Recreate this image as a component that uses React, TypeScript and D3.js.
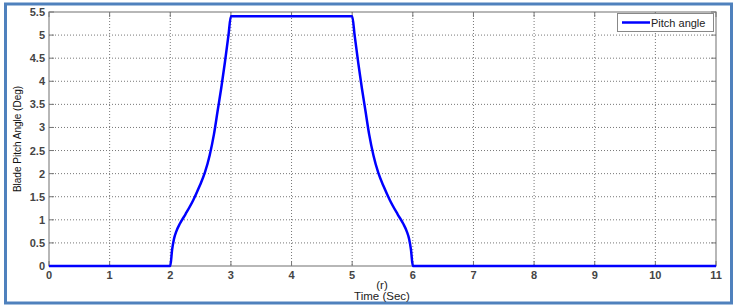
import React, { useEffect, useRef } from 'react';
import * as d3 from 'd3';

// time (s) and blade pitch angle (deg)
const timeSec = [0, 1, 2, 2.03, 2.06, 2.1, 2.16, 2.25, 2.38, 2.48, 2.57, 2.65, 2.72, 2.78, 2.84, 2.9, 2.96, 3.0,
  4, 5.0, 5.04, 5.1, 5.16, 5.22, 5.28, 5.35, 5.43, 5.52, 5.62, 5.75, 5.84, 5.9, 5.94, 5.97, 6.0, 7, 8, 9, 10, 11];
const pitchDeg = [0, 0, 0, 0.35, 0.58, 0.75, 0.92, 1.12, 1.43, 1.72, 2.02, 2.4, 2.85, 3.35, 3.85, 4.4, 5.0, 5.41,
  5.41, 5.41, 5.0, 4.4, 3.85, 3.35, 2.85, 2.4, 2.02, 1.72, 1.43, 1.12, 0.92, 0.75, 0.58, 0.35, 0, 0, 0, 0, 0, 0];
const xTicks = [0, 1, 2, 3, 4, 5, 6, 7, 8, 9, 10, 11];
const yTicks = [0, 0.5, 1, 1.5, 2, 2.5, 3, 3.5, 4, 4.5, 5, 5.5];

const W = 736;
const H = 308;

export default function App() {
  const svgRef = useRef<SVGSVGElement>(null);

  useEffect(() => {
    if (!svgRef.current) return;
    const svg = d3.select(svgRef.current);
    svg.selectAll('*').remove();

    const left = 49, right = 716, top = 12, bottom = 266;
    const x = d3.scaleLinear().domain([0, 11]).range([left, right]);
    const y = d3.scaleLinear().domain([0, 5.5]).range([bottom, top]);
    const font = 'Arial, "Liberation Sans", sans-serif';

    svg.append('rect').attr('width', W).attr('height', H).attr('fill', '#fff');
    // outer frame
    svg.append('rect')
      .attr('x', 5.5).attr('y', 4).attr('width', 726).attr('height', 299)
      .attr('fill', 'none').attr('stroke', '#4f81bd').attr('stroke-width', 3);

    const g = svg.append('g');

    // grid
    g.selectAll('.vg').data(xTicks.slice(1, -1)).enter().append('line')
      .attr('x1', d => x(d)).attr('x2', d => x(d)).attr('y1', top).attr('y2', bottom)
      .attr('stroke', '#777').attr('stroke-width', 1).attr('stroke-dasharray', '1,2');
    g.selectAll('.hg').data(yTicks.slice(1, -1)).enter().append('line')
      .attr('y1', d => y(d)).attr('y2', d => y(d)).attr('x1', left).attr('x2', right)
      .attr('stroke', '#777').attr('stroke-width', 1).attr('stroke-dasharray', '1,2');

    // box
    g.append('rect')
      .attr('x', left).attr('y', top).attr('width', right - left).attr('height', bottom - top)
      .attr('fill', 'none').attr('stroke', '#888').attr('stroke-width', 1.2);

    // ticks inside
    xTicks.forEach(t => {
      g.append('line').attr('x1', x(t)).attr('x2', x(t)).attr('y1', bottom).attr('y2', bottom - 5).attr('stroke', '#777');
      g.append('line').attr('x1', x(t)).attr('x2', x(t)).attr('y1', top).attr('y2', top + 5).attr('stroke', '#777');
    });
    yTicks.forEach(t => {
      g.append('line').attr('y1', y(t)).attr('y2', y(t)).attr('x1', left).attr('x2', left + 5).attr('stroke', '#777');
      g.append('line').attr('y1', y(t)).attr('y2', y(t)).attr('x1', right).attr('x2', right - 5).attr('stroke', '#777');
    });

    // tick labels
    g.selectAll('.xl').data(xTicks).enter().append('text')
      .attr('x', d => x(d)).attr('y', bottom + 13)
      .attr('text-anchor', 'middle').attr('font-family', font).attr('font-size', 11).attr('font-weight', 'bold')
      .attr('fill', '#444').text(d => String(d));
    g.selectAll('.yl').data(yTicks).enter().append('text')
      .attr('x', left - 4).attr('y', d => y(d) + 4)
      .attr('text-anchor', 'end').attr('font-family', font).attr('font-size', 11).attr('font-weight', 'bold')
      .attr('fill', '#444').text(d => String(d));

    // axis titles
    g.append('text').attr('x', 382).attr('y', 289).attr('text-anchor', 'middle')
      .attr('font-family', font).attr('font-size', 11.5).attr('fill', '#222').text('(r)');
    g.append('text').attr('x', 382).attr('y', 300).attr('text-anchor', 'middle')
      .attr('font-family', font).attr('font-size', 11.5).attr('fill', '#222').text('Time (Sec)');
    g.append('text')
      .attr('transform', `translate(21,${(top + bottom) / 2}) rotate(-90)`)
      .attr('text-anchor', 'middle').attr('font-family', font).attr('font-size', 10).attr('fill', '#111')
      .text('Blade Pitch Angle (Deg)');

    // series
    const line = d3.line<number>().x((_, i) => x(timeSec[i])).y(d => y(d)).curve(d3.curveMonotoneX);
    g.append('path').datum(pitchDeg).attr('d', line)
      .attr('fill', 'none').attr('stroke', '#0000ff').attr('stroke-width', 2.5)
      .attr('stroke-linejoin', 'round');

    // legend
    const lg = g.append('g');
    lg.append('rect').attr('x', 617.5).attr('y', 13.5).attr('width', 96).attr('height', 18)
      .attr('fill', '#fff').attr('stroke', '#888');
    lg.append('line').attr('x1', 622).attr('x2', 650).attr('y1', 22.5).attr('y2', 22.5)
      .attr('stroke', '#0000ff').attr('stroke-width', 2.5);
    lg.append('text').attr('x', 651).attr('y', 26.5).attr('font-family', font).attr('font-size', 11)
      .attr('fill', '#222').text('Pitch angle');
  }, []);

  return <svg ref={svgRef} width={W} height={H} style={{ display: 'block', position: 'absolute', left: 0, top: 0 }} />;
}
